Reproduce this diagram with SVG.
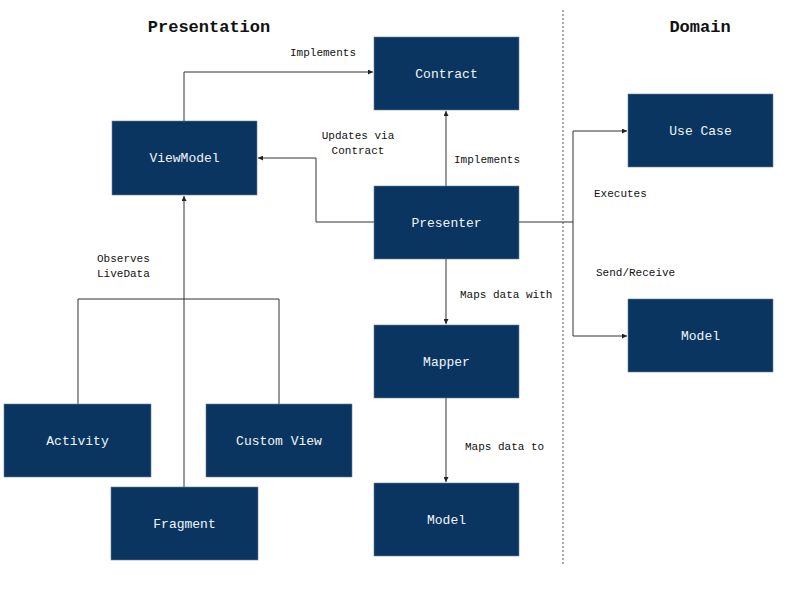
<svg xmlns="http://www.w3.org/2000/svg" width="800" height="600" viewBox="0 0 800 600">
<style>
.node rect{fill:#0b3561;stroke:#6b7f95;stroke-width:0.6}
.node text{fill:#f2f5f8;font-family:"Liberation Mono","DejaVu Sans Mono",monospace;font-size:13px;text-anchor:middle;dominant-baseline:central}
.lbl{fill:#111;font-family:"Liberation Mono","DejaVu Sans Mono",monospace;font-size:11px}
.title{fill:#111;font-family:"Liberation Mono","DejaVu Sans Mono",monospace;font-size:17px;font-weight:bold;text-anchor:middle}
.conn path{fill:none;stroke:#333;stroke-width:1}
</style>
<defs>
<marker id="arr" viewBox="0 0 6 6" refX="6" refY="3" markerWidth="5" markerHeight="5" orient="auto" markerUnits="userSpaceOnUse">
<path d="M0,0 L6,3 L0,6 z" fill="#222"/>
</marker>
</defs>
<rect width="800" height="600" fill="#fff"/>
<text class="title" x="209" y="32">Presentation</text>
<text class="title" x="700" y="32">Domain</text>
<line x1="563" y1="10" x2="563" y2="566" stroke="#555" stroke-width="1" stroke-dasharray="2,2"/>
<g class="conn">
<path d="M184,121 V72 H373" marker-end="url(#arr)"/>
<path d="M446,186 V111" marker-end="url(#arr)"/>
<path d="M374,222 H316 V158 H258" marker-end="url(#arr)"/>
<path d="M184,487 V196" marker-end="url(#arr)"/>
<path d="M78,404 V299 H279 V404"/>
<path d="M519,222 H573 V131 H627" marker-end="url(#arr)"/>
<path d="M573,222 V336 H627" marker-end="url(#arr)"/>
<path d="M446,259 V324" marker-end="url(#arr)"/>
<path d="M446,398 V482" marker-end="url(#arr)"/>
</g>
<text class="lbl" x="290" y="56">Implements</text>
<text class="lbl" x="358" y="139" text-anchor="middle">Updates via</text>
<text class="lbl" x="358" y="154" text-anchor="middle">Contract</text>
<text class="lbl" x="454" y="163">Implements</text>
<text class="lbl" x="594" y="197">Executes</text>
<text class="lbl" x="596" y="276">Send/Receive</text>
<text class="lbl" x="460" y="298">Maps data with</text>
<text class="lbl" x="465" y="450">Maps data to</text>
<text class="lbl" x="97" y="262">Observes</text>
<text class="lbl" x="97" y="277">LiveData</text>
<g id="contract" class="node"><rect x="374" y="37" width="145" height="73"/><text x="446.5" y="74">Contract</text></g>
<g id="viewmodel" class="node"><rect x="112" y="121" width="145" height="74"/><text x="184.5" y="158">ViewModel</text></g>
<g id="presenter" class="node"><rect x="374" y="186" width="145" height="73"/><text x="446.5" y="223">Presenter</text></g>
<g id="usecase" class="node"><rect x="628" y="94" width="145" height="73"/><text x="700.5" y="131">Use Case</text></g>
<g id="domain-model" class="node"><rect x="628" y="299" width="145" height="73"/><text x="700.5" y="336">Model</text></g>
<g id="mapper" class="node"><rect x="374" y="325" width="145" height="73"/><text x="446.5" y="362">Mapper</text></g>
<g id="model" class="node"><rect x="374" y="483" width="145" height="73"/><text x="446.5" y="520">Model</text></g>
<g id="activity" class="node"><rect x="4" y="404" width="147" height="73"/><text x="77.5" y="441">Activity</text></g>
<g id="customview" class="node"><rect x="206" y="404" width="146" height="73"/><text x="279" y="441">Custom View</text></g>
<g id="fragment" class="node"><rect x="111" y="487" width="147" height="73"/><text x="184.5" y="524">Fragment</text></g>
</svg>
